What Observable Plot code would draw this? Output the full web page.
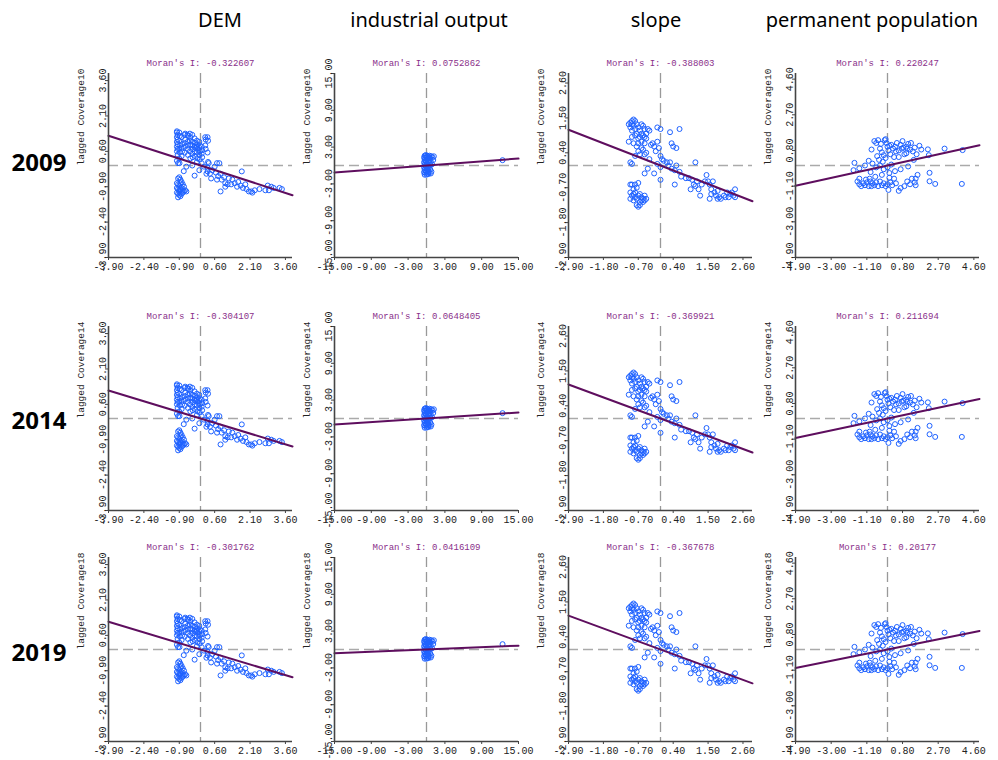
<!DOCTYPE html>
<html><head><meta charset="utf-8">
<script src="https://cdn.jsdelivr.net/npm/d3@7"></script>
<script src="https://cdn.jsdelivr.net/npm/@observablehq/plot@0.6"></script>
<style>
body{margin:0;background:#fff;}
#root{position:relative;width:998px;height:760px;overflow:hidden;background:#fff;}
.hdr{position:absolute;top:10px;font-family:"Noto Sans",sans-serif;font-size:20px;color:#000;transform:translateX(-50%);white-space:nowrap;line-height:1;}
.yr{position:absolute;font-family:"Noto Sans",sans-serif;font-weight:bold;font-size:24px;color:#000;transform:translate(-50%,-50%);line-height:1;}
.panel{position:absolute;}
</style></head><body><div id="root"></div>
<script>
// ---------------- data ----------------
const years = ["2009", "2014", "2019"];
const yLabels = ["lagged Coverage10", "lagged Coverage14", "lagged Coverage18"];
const variables = ["DEM", "industrial output", "slope", "permanent population"];

const moranDEM = [-0.322607, -0.304107, -0.301762];
const moranIndustrial = [0.0752862, 0.0648405, 0.0416109];
const moranSlope = [-0.388003, -0.369921, -0.367678];
const moranPopulation = [0.220247, 0.211694, 0.20177];

const domainDEM = [-3.9, 3.9];
const domainIndustrial = [-15, 15];
const domainSlope = [-2.9, 2.9];
const domainPopulation = [-4.9, 4.9];

const ticksDEM = [-3.9, -2.4, -0.9, 0.6, 2.1, 3.6];
const ticksIndustrial = [-15, -9, -3, 3, 9, 15];
const ticksSlope = [-2.9, -1.8, -0.7, 0.4, 1.5, 2.6];
const ticksPopulation = [-4.9, -3.0, -1.1, 0.8, 2.7, 4.6];

const pointsDEM = [
  [-1.0,1.45],[-1.0,1.4],[-0.97,1.3],[-1.0,1.2],[-0.97,1.1],[-1.0,1.0],[-0.97,0.9],[-1.0,0.8],[-0.97,0.7],[-1.0,0.6],[-0.97,0.45],[-1.0,0.2],[-0.95,0.1],
  [-0.9,1.4],[-0.88,1.25],[-0.9,1.05],[-0.88,0.85],[-0.9,0.7],[-0.88,0.55],[-0.9,0.3],
  [-0.8,1.2],[-0.78,0.9],[-0.8,0.75],[-0.78,0.6],[-0.8,0.4],
  [-0.65,1.35],[-0.67,1.3],[-0.65,1.1],[-0.67,0.95],[-0.65,0.8],[-0.67,0.55],
  [-0.55,1.3],[-0.53,1.25],[-0.55,1.0],[-0.53,0.85],[-0.55,0.7],[-0.53,0.45],
  [-0.45,1.35],[-0.43,1.2],[-0.45,1.05],[-0.43,0.9],[-0.45,0.6],[-0.43,0.3],
  [-0.35,1.3],[-0.33,1.0],[-0.35,0.85],[-0.33,0.7],[-0.35,0.5],[-0.33,0.35],[-0.35,0.0],
  [-0.25,1.15],[-0.23,0.95],[-0.25,0.8],[-0.23,0.75],[-0.25,0.6],[-0.23,0.4],
  [-0.15,1.05],[-0.13,0.9],[-0.15,0.8],[-0.13,0.7],[-0.15,0.55],[-0.13,0.3],[-0.15,0.15],
  [-0.05,1.0],[-0.03,0.85],[-0.05,0.75],[-0.03,0.6],[-0.05,0.45],[-0.03,0.25],[-0.05,-0.2],
  [0.05,0.8],[0.07,0.65],[0.05,0.5],[0.07,0.35],[0.05,0.1],
  [0.2,1.2],[0.22,1.1],[0.2,0.85],[0.22,0.7],
  [0.3,1.2],[0.32,1.05],[0.3,0.55],[0.32,0.15],[0.3,-0.25],
  [-0.71,-0.24],[-0.25,-0.43],[-0.89,0.1],[-0.6,-0.05],
  [-0.95,-0.55],[-0.9,-0.5],[-0.85,-0.6],[-1.0,-0.75],[-0.95,-0.8],[-0.9,-0.85],[-0.85,-0.75],[-0.8,-0.7],[-0.75,-0.8],[-0.7,-0.9],
  [-1.0,-0.95],[-0.95,-1.0],[-0.9,-1.05],[-0.85,-1.0],[-0.8,-0.95],[-0.75,-1.05],[-0.7,-1.1],[-0.65,-1.05],[-1.0,-1.15],[-0.95,-1.2],
  [-0.9,-1.25],[-0.85,-1.3],[-0.8,-1.2],[-0.75,-1.15],[-0.95,-1.35],[-0.9,-1.1],[-0.6,-1.1],
  [0.15,-0.05],[0.35,0.1],[0.5,-0.2],[0.6,-0.05],[0.7,0.1],[0.8,0.1],[0.45,-0.55],[0.65,-0.3],[0.75,-0.45],[0.85,-0.35],
  [0.7,-0.6],[0.9,-0.6],[1.0,-0.5],[1.05,-0.75],[1.2,-0.55],[1.3,-0.8],[1.35,-0.6],[1.45,-0.75],[1.55,-0.9],[1.6,-0.7],
  [1.7,-0.85],[1.75,-0.25],[1.8,-0.95],[1.9,-0.8],[1.95,-1.0],[2.05,-1.1],[2.15,-1.1],[2.2,-1.15],[2.3,-1.05],[2.5,-1.0],
  [2.75,-1.05],[2.9,-1.05],[3.0,-0.9],[3.1,-0.95],[3.35,-0.95],[3.45,-1.0],[0.85,-1.1],[1.15,-0.8],[0.4,-0.35],[2.85,-0.85],
  [0.25,-0.35],[1.05,-0.9],[0.3,-0.1]
];

const pointsIndustrial = [
  [-0.3,1.6],[-0.1,1.7],[0.1,1.6],[0.3,1.5],[-0.4,1.3],[-0.2,1.2],[0.0,1.4],[0.2,1.1],[0.4,1.3],[-0.3,0.9],
  [-0.1,0.8],[0.1,1.0],[0.3,0.7],[0.5,0.9],[-0.4,0.5],[-0.2,0.4],[0.0,0.6],[0.2,0.3],[0.4,0.5],[-0.3,0.1],
  [-0.1,0.0],[0.1,0.2],[0.3,-0.1],[-0.4,-0.3],[-0.2,-0.4],[0.0,-0.2],[0.2,-0.5],[0.4,-0.3],[-0.3,-0.7],[-0.1,-0.8],
  [0.1,-0.6],[0.3,-0.9],[-0.4,-1.1],[-0.2,-1.2],[0.0,-1.0],[0.2,-1.3],[0.4,-1.1],[-0.3,-1.5],[0.0,-1.5],[0.3,-1.4],
  [0.6,1.2],[0.8,1.5],[1.0,1.3],[1.2,1.5],[1.1,0.9],[0.7,0.6],[0.9,0.2],[0.6,-0.6],[0.8,-1.0],[0.7,-1.3],
  [12.4,0.87],[0.5,1.6],[0.6,0.1]
];

const pointsSlope = [
  [-0.95,1.35],[-0.9,1.4],[-0.85,1.45],[-0.8,1.4],[-0.75,1.3],[-0.85,1.25],[-0.95,1.2],[-0.9,1.1],[-0.8,1.15],[-0.7,1.2],
  [-0.65,1.1],[-0.6,1.3],[-0.55,1.25],[-0.5,1.15],[-0.6,1.0],[-0.55,0.95],[-0.5,0.9],[-0.45,0.85],[-0.65,0.9],[-0.7,0.85],
  [-0.8,0.95],[-0.9,0.9],[-1.0,0.75],[-0.85,0.7],[-0.75,0.6],[-0.6,0.75],[-0.5,0.7],[-0.45,1.0],[-0.4,1.15],[-0.35,1.1],
  [-0.55,0.5],[-0.7,0.45],[-0.8,0.3],[-0.95,0.1],[-0.9,0.05],[-0.65,0.35],[-0.5,0.35],[-0.45,0.4],[-0.6,0.55],[-1.0,1.3],
  [-0.9,1.3],[-0.75,1.0],[-0.7,0.7],
  [-0.3,0.65],[-0.25,0.7],[-0.2,0.6],[-0.15,0.45],[-0.1,0.75],[-0.05,0.55],[0.0,0.3],[0.05,0.2],[-0.35,0.2],[-0.4,-0.1],
  [-0.2,-0.25],[-0.1,0.05],[0.0,-0.05],[0.1,0.15],[0.2,0.1],[-0.1,1.2],[0.0,1.15],[0.3,1.05],[0.35,0.7],[0.4,0.6],
  [0.5,0.55],[0.6,1.15],[0.3,0.1],[0.35,-0.1],[0.45,-0.15],[0.5,0.0],[0.6,-0.2],[0.45,-0.6],[0.65,-0.35],[0.0,-0.45],
  [-0.5,-0.25],[0.8,-0.4],[1.1,0.1],[0.25,0.0],
  [0.9,-0.4],[1.0,-0.45],[1.05,-0.6],[1.1,-0.65],[1.15,-0.5],[1.2,-0.75],[1.3,-0.6],[1.4,-0.5],[1.45,-0.3],[1.5,-0.5],
  [1.55,-0.6],[1.6,-0.75],[1.6,-0.9],[1.7,-0.85],[1.75,-0.95],[1.8,-0.8],[1.85,-1.0],[1.9,-1.05],[2.0,-0.95],[2.05,-1.0],
  [2.1,-0.85],[2.15,-1.0],[2.2,-0.9],[2.3,-0.95],[2.35,-0.75],[2.35,-1.0],[1.25,-0.95],[1.55,-1.05],[1.65,-0.5],[0.95,-0.75],
  [1.8,-1.05],[2.25,-0.85],
  [-0.95,-0.6],[-0.9,-0.6],[-0.85,-0.75],[-0.95,-0.85],[-0.9,-0.95],[-0.85,-0.9],[-0.8,-0.85],[-0.75,-0.7],[-0.8,-1.0],[-0.75,-1.05],
  [-0.7,-0.95],[-0.65,-0.9],[-0.6,-1.0],[-0.55,-1.05],[-0.5,-1.1],[-0.45,-1.05],[-0.6,-1.1],[-0.65,-1.15],[-0.85,-1.1],[-0.95,-1.05],
  [-0.7,-1.3],[-0.75,-1.25],[-0.65,-1.25],[-0.55,-1.15],[-0.8,-0.6],[-0.7,-0.55],[-0.5,-0.95]
];

const pointsPopulation = [
  [-0.85,0.85],[-0.7,1.3],[-0.6,1.2],[-0.5,1.35],[-0.4,0.9],[-0.3,0.7],[-0.2,0.55],[-0.15,1.35],[-0.1,1.4],[-0.05,1.2],
  [0.0,1.0],[0.05,0.8],[0.1,1.05],[0.2,1.1],[0.3,0.9],[0.4,1.0],[0.5,1.2],[0.6,0.8],[0.7,1.1],[0.8,1.3],
  [0.85,0.95],[0.9,0.6],[1.0,1.0],[1.1,1.15],[1.2,0.85],[1.25,1.2],[1.35,0.75],[1.45,0.95],[1.55,0.6],[1.7,1.05],
  [1.8,0.85],[0.15,0.6],[-0.35,1.15],[-0.55,0.5],[0.35,0.45],[0.6,0.45],[1.0,0.65],[1.4,0.3],[-0.45,0.3],[-0.25,0.2],
  [2.15,0.86],[2.2,0.55],[3.04,0.9],[4.0,0.82],[-0.1,0.4],[0.45,0.75],[0.75,0.9],[1.05,0.9],
  [-1.76,0.14],[-1.81,-0.25],[-1.5,-0.15],[-1.2,0.0],[-1.0,0.25],[-0.8,0.1],[-0.6,-0.1],[-0.4,0.0],[-0.2,-0.2],[0.0,-0.1],
  [0.2,0.05],[0.1,-0.4],[-0.3,-0.5],[0.4,-0.3],[1.1,-0.05],[1.6,-0.5],[2.24,-0.39],[-0.9,-0.35],[0.7,-0.2],
  [-1.6,-0.85],[-1.5,-1.0],[-1.4,-1.1],[-1.3,-0.95],[-1.2,-1.05],[-1.1,-0.9],[-1.0,-1.1],[-0.9,-0.85],[-0.85,-1.1],[-0.8,-0.95],
  [-0.7,-1.05],[-0.6,-0.9],[-0.5,-1.1],[-0.4,-0.85],[-0.3,-1.05],[-0.2,-0.95],[-0.1,-1.1],[0.0,-1.0],[0.05,-1.3],[0.15,-0.9],
  [0.25,-1.05],[0.35,-0.7],[0.45,-0.95],[0.6,-1.35],[0.7,-1.2],[0.9,-1.1],[1.05,-0.85],[1.2,-1.0],[1.3,-0.7],[1.45,-0.9],
  [1.5,-0.7],[1.5,-1.05],[2.24,-0.84],[2.54,-0.98],[3.96,-0.98],[-1.5,-0.7],[-1.15,-0.75],[-0.65,-0.6],[0.1,-0.65],[-0.95,-0.7]
];

// ---------------- layout ----------------
const columns = [
  {points: pointsDEM, moran: moranDEM, domain: domainDEM, ticks: ticksDEM},
  {points: pointsIndustrial, moran: moranIndustrial, domain: domainIndustrial, ticks: ticksIndustrial},
  {points: pointsSlope, moran: moranSlope, domain: domainSlope, ticks: ticksSlope},
  {points: pointsPopulation, moran: moranPopulation, domain: domainPopulation, ticks: ticksPopulation}
];
const colLeft = [108, 334, 568, 795];
const rowTop = [73, 326, 557];
const headerX = [220, 429, 656, 872];
const yearY = [162, 420, 652];
const FRAME = 184;
const M = {left: 42, right: 14, top: 24, bottom: 22};

const root = document.getElementById("root");

variables.forEach((v, i) => {
  const d = document.createElement("div");
  d.className = "hdr";
  d.style.left = headerX[i] + "px";
  d.textContent = v;
  root.appendChild(d);
});
years.forEach((y, i) => {
  const d = document.createElement("div");
  d.className = "yr";
  d.style.left = "39px";
  d.style.top = yearY[i] + "px";
  d.textContent = y;
  root.appendChild(d);
});

const fmt = d => d.toFixed(2);

rowTop.forEach((top, r) => {
  columns.forEach((col, c) => {
    const I = col.moran[r];
    const fit = col.domain.map(x => ({x, y: I * x}));
    const chart = Plot.plot({
      width: FRAME + M.left + M.right,
      height: FRAME + M.top + M.bottom,
      marginLeft: M.left, marginRight: M.right, marginTop: M.top, marginBottom: M.bottom,
      style: {background: "transparent", overflow: "visible", color: "#222", fontFamily: "'Liberation Mono', monospace", fontSize: "10px"},
      x: {domain: col.domain},
      y: {domain: col.domain},
      marks: [
        Plot.ruleX([0], {stroke: "#999", strokeWidth: 1.3, strokeDasharray: "10,5"}),
        Plot.ruleY([0], {stroke: "#aaa", strokeWidth: 1.3, strokeDasharray: "10,5"}),
        Plot.dot(col.points, {x: d => d[0], y: d => d[1], r: 2.5, stroke: "#1f62ff", strokeWidth: 1, fill: "none"}),
        Plot.line(fit, {x: "x", y: "y", stroke: "#5e0e5e", strokeWidth: 2}),
        Plot.ruleX([col.domain[0]], {stroke: "#444", strokeWidth: 1.6}),
        Plot.ruleY([col.domain[0]], {stroke: "#444", strokeWidth: 1.6}),
        Plot.axisX(col.ticks, {tickSize: 3, tickPadding: 2, tickFormat: fmt, label: null, stroke: "#444"}),
        Plot.axisY(col.ticks, {tickSize: 3, tickPadding: 0, tickRotate: -90, tickFormat: fmt, label: null, stroke: "#444"}),
        Plot.text([`Moran's I: ${I}`], {frameAnchor: "top", dy: -14, text: d => d, fill: "#8a2f8a", fontSize: 9}),
        Plot.text([yLabels[r]], {frameAnchor: "left", dx: -28, rotate: -90, text: d => d, fill: "#222", fontSize: 9.5})
      ]
    });
    chart.classList.add("panel");
    chart.style.left = (colLeft[c] - M.left) + "px";
    chart.style.top = (top - M.top) + "px";
    root.appendChild(chart);
  });
});
</script></body></html>
